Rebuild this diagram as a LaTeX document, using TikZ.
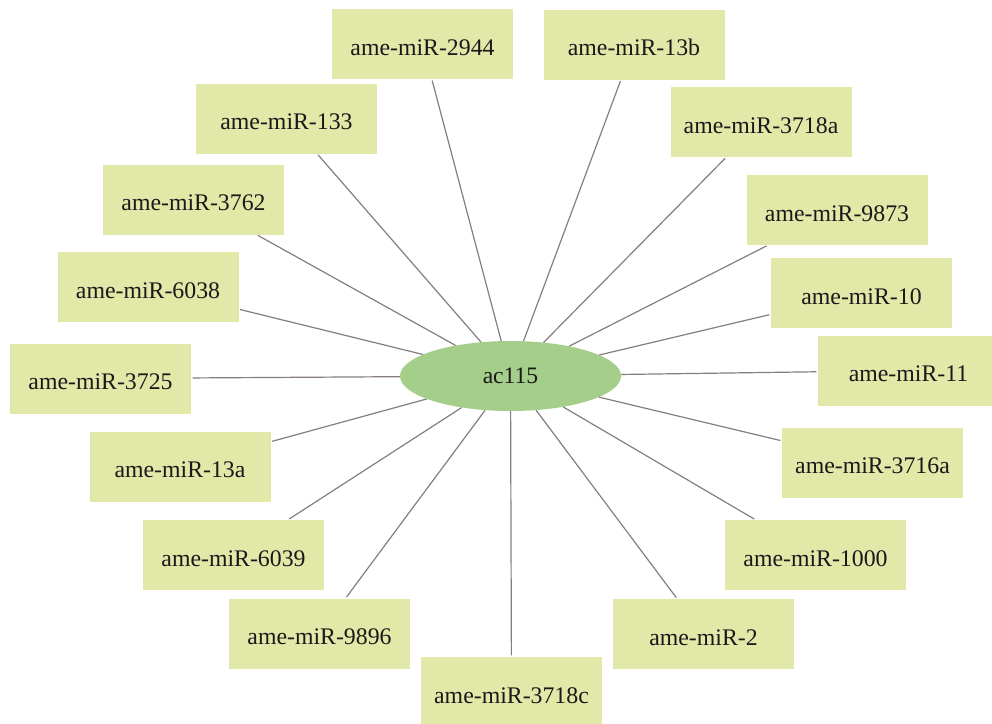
\documentclass[tikz,border=0pt]{standalone}
\usepackage{fontspec}
\setmainfont{Liberation Serif}
\usetikzlibrary{shapes.geometric}
\definecolor{boxfill}{RGB}{226,233,168}
\definecolor{hubfill}{RGB}{164,206,138}
\definecolor{edgecol}{RGB}{135,125,125}
\definecolor{txt}{RGB}{25,25,25}
\begin{document}
\begin{tikzpicture}[x=1pt,y=-1pt,
  mirbox/.style={rectangle, fill=boxfill, minimum width=181pt, minimum height=70pt,
    inner sep=0pt, text height=22.7pt, text depth=0pt,
    font=\fontsize{23.8}{28}\selectfont, text=txt},
  hub/.style={ellipse, fill=hubfill, minimum width=221pt, minimum height=70pt,
    inner sep=0pt, font=\fontsize{23.6}{28}\selectfont, text=txt},
  link/.style={draw=edgecol, line width=1.2pt, shorten >=1.5pt}]
\useasboundingbox (0,0) rectangle (992,723);
\node[hub] (hub) at (510.5,376) {ac115};
\node[mirbox] (m2944) at (422.5,44) {ame-miR-2944};
\node[mirbox] (m13b) at (634,44.5) {ame-miR-13b};
\node[mirbox] (m133) at (286.5,118.5) {ame-miR-133};
\node[mirbox] (m3718a) at (761,122) {ame-miR-3718a};
\node[mirbox] (m3762) at (193.5,199.5) {ame-miR-3762};
\node[mirbox] (m9873) at (837,210) {ame-miR-9873};
\node[mirbox] (m6038) at (148,287) {ame-miR-6038};
\node[mirbox] (m10) at (861.5,293) {ame-miR-10};
\node[mirbox] (m3725) at (100.5,378.5) {ame-miR-3725};
\node[mirbox] (m11) at (908.5,370.5) {ame-miR-11};
\node[mirbox] (m13a) at (180,466.5) {ame-miR-13a};
\node[mirbox] (m3716a) at (872.5,462.5) {ame-miR-3716a};
\node[mirbox] (m6039) at (233.5,555) {ame-miR-6039};
\node[mirbox] (m1000) at (815.5,555) {ame-miR-1000};
\node[mirbox] (m9896) at (319.5,633.5) {ame-miR-9896};
\node[mirbox] (m2) at (703.5,634) {ame-miR-2};
\node[mirbox] (m3718c) at (511.5,692) {ame-miR-3718c};
\foreach \t in {m2944,m13b,m133,m3718a,m3762,m9873,m6038,m10,m3725,m11,m13a,m3716a,m6039,m1000,m9896,m2,m3718c}
  \draw[link] (hub) -- (\t);
\end{tikzpicture}
\end{document}
